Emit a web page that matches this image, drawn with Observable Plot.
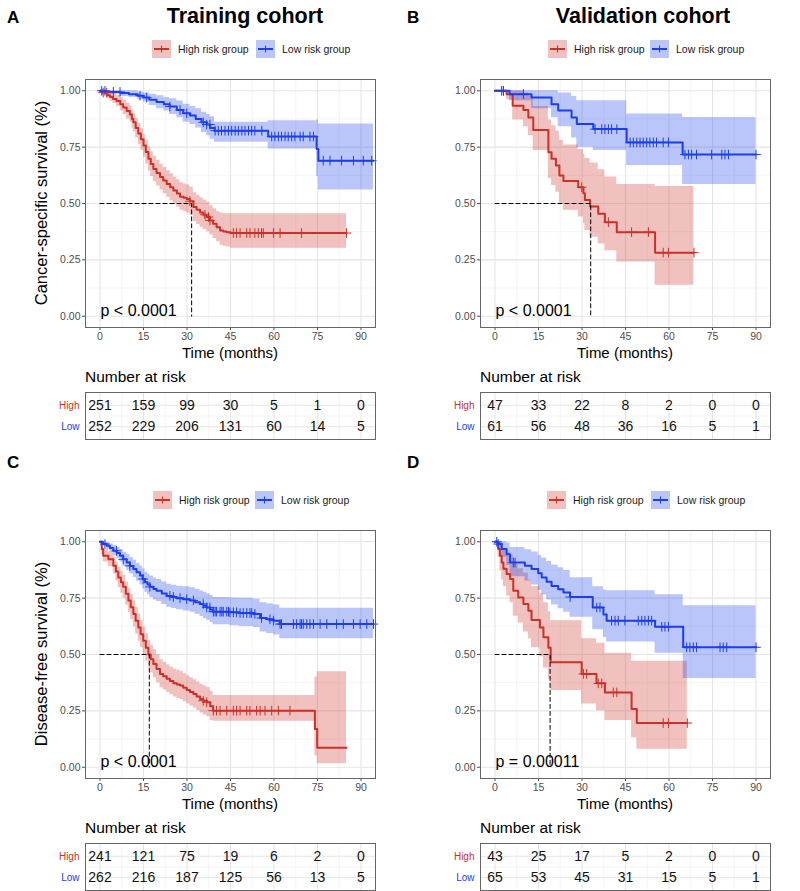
<!DOCTYPE html>
<html><head><meta charset="utf-8">
<script src="https://cdn.jsdelivr.net/npm/d3@7"></script>
<script src="https://cdn.jsdelivr.net/npm/@observablehq/plot@0.6"></script>
<style>
body{margin:0;background:#fff;}
#root{position:relative;width:800px;height:891px;overflow:hidden;font-family:"Liberation Sans",Arial,sans-serif;color:#000;}
.abs{position:absolute;white-space:nowrap;line-height:1.15;}
.plot{position:absolute;}
</style></head><body><div id="root"></div>
<script>
// ---------- data ----------
const timeTicks = [0, 15, 30, 45, 60, 75, 90];
const survTicks = [0, 0.25, 0.5, 0.75, 1];
const groupNames = ["High risk group", "Low risk group"];
const rowLabels = ["High", "Low"];
const cohortTitles = ["Training cohort", "Validation cohort"];
const panelLetters = ["A", "B", "C", "D"];
const yTitles = ["Cancer-specific survival (%)", "Disease-free survival (%)"];
const pValues = ["p < 0.0001", "p < 0.0001", "p < 0.0001", "p = 0.00011"];
const medians = [31.6, 33, 17, 19];

// step curves: [time, survival, lower CI, upper CI]
const A_high = [[0,1,1,1],[1,0.992,0.98,1],[2.5,0.98,0.965,0.995],[3.5,0.972,0.953,0.99],[4.5,0.964,0.943,0.986],[5.7,0.955,0.93,0.98],[7,0.94,0.91,0.97],[8,0.926,0.895,0.958],[9.2,0.91,0.875,0.945],[10.3,0.895,0.86,0.932],[11,0.875,0.835,0.915],[11.5,0.86,0.818,0.9],[12.3,0.835,0.79,0.878],[13.2,0.81,0.762,0.855],[14.1,0.785,0.735,0.832],[15,0.757,0.705,0.805],[15.8,0.728,0.675,0.78],[16.7,0.698,0.643,0.752],[17.5,0.675,0.62,0.73],[18.4,0.653,0.597,0.71],[19.5,0.635,0.578,0.692],[20.7,0.617,0.56,0.675],[21.8,0.602,0.543,0.66],[23,0.587,0.528,0.645],[24.2,0.572,0.512,0.632],[25.3,0.558,0.498,0.618],[26.5,0.544,0.483,0.605],[27.6,0.53,0.47,0.592],[28.8,0.525,0.463,0.587],[29.9,0.52,0.458,0.582],[31,0.51,0.448,0.572],[32.2,0.484,0.42,0.548],[33.3,0.472,0.407,0.537],[34.5,0.46,0.395,0.525],[35.6,0.45,0.385,0.515],[36.8,0.44,0.375,0.505],[37.9,0.425,0.36,0.49],[39,0.41,0.345,0.477],[40.2,0.395,0.33,0.463],[41.4,0.38,0.315,0.458],[42.5,0.376,0.31,0.455],[43.7,0.373,0.307,0.454],[45,0.369,0.302,0.454]];
const A_highEnd = 85;
const A_low = [[0,1,1,1],[2,0.995,0.985,1],[7,0.99,0.975,1],[10,0.985,0.97,1],[13,0.978,0.96,0.995],[15,0.97,0.95,0.99],[17,0.96,0.935,0.985],[19.5,0.95,0.92,0.978],[22,0.94,0.91,0.97],[24,0.93,0.895,0.965],[26.5,0.915,0.88,0.955],[28.7,0.9,0.86,0.94],[31,0.89,0.85,0.93],[33,0.875,0.835,0.92],[35,0.86,0.815,0.905],[36.8,0.85,0.8,0.895],[38,0.835,0.785,0.885],[39.5,0.823,0.772,0.86],[58,0.797,0.742,0.867],[74.7,0.742,0.62,0.87],[75.3,0.69,0.56,0.853]];
const A_lowEnd = 94.3;
const A_highCens = [1.1,2.3,31,36.2,37.4,37.9,46,47.1,48.3,50.6,51.7,53.4,54.6,55.7,56.3,59.8,62.1,69.5,85];
const A_lowCens = [0.6,1.7,4.6,6.9,13.8,16.1,24.1,27.6,29.9,35.6,36.8,37.9,39.7,40.8,41.9,43.1,44.3,45.4,46.6,47.7,48.9,50,51.2,52.3,53.4,55.8,59.2,60.3,61.5,62.6,63.8,64.9,66.1,67.2,69,70.1,72.4,73.6,77,79.3,83.3,87.4,90.8,93.7];
const A_highRisk = [251, 159, 99, 30, 5, 1, 0];
const A_lowRisk = [252, 229, 206, 131, 60, 14, 5];

const B_high = [[0,1,1,1],[4,0.985,0.96,1],[6.1,0.934,0.87,1],[9.8,0.915,0.84,0.99],[11.5,0.882,0.8,0.975],[13.2,0.826,0.735,0.93],[18.4,0.727,0.61,0.87],[19.5,0.698,0.58,0.845],[21,0.668,0.55,0.82],[22.2,0.624,0.5,0.78],[23.6,0.6,0.47,0.76],[28.7,0.572,0.44,0.74],[30.5,0.546,0.41,0.72],[31,0.516,0.38,0.7],[32.8,0.487,0.35,0.68],[35.6,0.454,0.32,0.65],[37.9,0.417,0.29,0.617],[42,0.373,0.24,0.584],[55.2,0.282,0.137,0.575]];
const B_highEnd = 68.6;
const B_low = [[0,1,1,1],[5,0.985,0.956,1],[12.6,0.97,0.92,1],[19.5,0.94,0.88,1],[21.8,0.912,0.84,0.99],[26.4,0.882,0.79,0.975],[28.2,0.853,0.75,0.956],[33.9,0.83,0.735,0.956],[45.4,0.771,0.668,0.897],[64.7,0.717,0.584,0.882]];
const B_lowEnd = 90;
const B_highCens = [2.9,29.9,39.1,47.1,52.9,58,59.8,68.6];
const B_lowCens = [2.3,2.9,9.8,34.5,36.8,37.9,39.1,40.2,42,46.6,47.7,48.9,50,51.1,52.3,53.4,54.6,55.7,58,59.8,65.5,66.7,67.8,69.5,74.7,78.2,79.3,80.5,90];
const B_highRisk = [47, 33, 22, 8, 2, 0, 0];
const B_lowRisk = [61, 56, 48, 36, 16, 5, 1];

const C_high = [[0,1,1,1],[0.6,0.968,0.945,0.99],[1.1,0.938,0.91,0.968],[2.9,0.923,0.89,0.955],[4.6,0.894,0.856,0.932],[5.5,0.868,0.826,0.91],[6.3,0.842,0.797,0.887],[7.2,0.82,0.772,0.868],[8,0.8,0.75,0.85],[8.9,0.77,0.718,0.822],[9.8,0.74,0.686,0.794],[10.6,0.71,0.654,0.766],[11.5,0.68,0.622,0.738],[12.3,0.65,0.591,0.709],[13.2,0.62,0.56,0.68],[14,0.59,0.53,0.65],[14.9,0.561,0.5,0.622],[15.8,0.53,0.47,0.592],[16.7,0.5,0.44,0.563],[17.5,0.479,0.418,0.542],[18.4,0.458,0.397,0.521],[19.5,0.436,0.375,0.499],[20.7,0.414,0.353,0.477],[21.8,0.403,0.342,0.466],[23,0.392,0.331,0.455],[24.1,0.382,0.321,0.445],[25.3,0.372,0.311,0.435],[26.5,0.367,0.305,0.43],[27.6,0.362,0.3,0.425],[28.7,0.352,0.29,0.415],[29.9,0.343,0.281,0.406],[31,0.334,0.272,0.397],[32.2,0.325,0.263,0.388],[33.3,0.314,0.252,0.378],[34.5,0.303,0.241,0.367],[35.6,0.295,0.232,0.36],[36.8,0.288,0.224,0.354],[38,0.27,0.207,0.337],[39,0.251,0.204,0.318],[74.1,0.17,0.05,0.4],[74.9,0.086,0.015,0.424]];
const C_highEnd = 85;
const C_low = [[0,1,1,1],[1,0.99,0.98,1],[2.3,0.982,0.967,0.997],[3.4,0.972,0.953,0.99],[4.6,0.96,0.937,0.983],[5.8,0.95,0.925,0.975],[6.9,0.938,0.91,0.966],[8,0.922,0.89,0.953],[9.2,0.908,0.874,0.943],[10.3,0.893,0.857,0.93],[11.5,0.879,0.841,0.918],[12.6,0.865,0.825,0.905],[13.8,0.85,0.808,0.893],[14.7,0.835,0.792,0.879],[15.5,0.82,0.776,0.865],[16.4,0.81,0.765,0.856],[17.2,0.8,0.753,0.848],[18.4,0.79,0.742,0.839],[19.5,0.783,0.735,0.833],[21.3,0.771,0.722,0.822],[23,0.76,0.71,0.812],[24.7,0.755,0.704,0.807],[26.4,0.75,0.699,0.803],[28.7,0.745,0.693,0.8],[31,0.74,0.687,0.796],[32.8,0.732,0.678,0.789],[34.5,0.724,0.669,0.782],[35.7,0.716,0.66,0.776],[36.8,0.709,0.652,0.77],[38,0.7,0.642,0.762],[39,0.69,0.632,0.753],[44.8,0.687,0.628,0.751],[48,0.684,0.624,0.75],[52.9,0.68,0.62,0.745],[55.2,0.662,0.6,0.73],[57.5,0.656,0.593,0.725],[59.8,0.65,0.586,0.72],[62,0.635,0.57,0.705]];
const C_lowEnd = 94.3;
const C_highCens = [35.6,36.8,39.1,40.2,41.4,43.7,46,47.1,48.3,50.6,51.7,54,55.2,56.9,59.2,61.5,65.5];
const C_lowCens = [1.7,5.7,8,10.3,14.9,17.2,24.1,25.3,27.6,29.9,32.2,35.6,36.8,37.9,39.1,39.7,40.2,41.4,42,42.5,43.7,44.3,44.8,46,47.1,48.3,49.4,50.6,51.7,52.3,53.4,55.7,58.6,59.8,62.1,62.6,66.7,67.8,69,69.5,70.1,71.3,72.4,73.6,75.9,78.2,81.6,83.9,87.4,89.7,92,94.3];
const C_highRisk = [241, 121, 75, 19, 6, 2, 0];
const C_lowRisk = [262, 216, 187, 125, 56, 13, 5];

const D_high = [[0,1,1,1],[1.1,0.968,0.93,1],[1.7,0.938,0.87,1],[2.3,0.908,0.83,0.99],[2.9,0.88,0.8,0.97],[4,0.857,0.76,0.955],[5.2,0.835,0.73,0.94],[6.3,0.783,0.67,0.9],[8,0.753,0.64,0.88],[9.8,0.724,0.6,0.86],[11.5,0.694,0.57,0.83],[12.6,0.653,0.53,0.8],[15.5,0.62,0.49,0.77],[16.7,0.576,0.44,0.73],[18.4,0.53,0.39,0.69],[19.2,0.466,0.34,0.65],[29.9,0.414,0.28,0.57],[35,0.372,0.25,0.55],[37.9,0.332,0.207,0.505],[47.1,0.258,0.13,0.47],[48.9,0.196,0.08,0.47]];
const D_highEnd = 66.3;
const D_low = [[0,1,1,1],[1.1,0.99,0.97,1],[2.3,0.968,0.93,1],[4,0.945,0.895,0.995],[5.2,0.908,0.845,0.975],[10.3,0.894,0.826,0.965],[12.6,0.879,0.808,0.955],[14.9,0.86,0.785,0.94],[16.1,0.842,0.764,0.928],[17.8,0.823,0.742,0.912],[19.5,0.804,0.72,0.897],[21.8,0.789,0.703,0.885],[23.6,0.775,0.687,0.873],[25.9,0.755,0.665,0.84],[33.7,0.709,0.61,0.8],[37.4,0.677,0.575,0.785],[38.5,0.65,0.555,0.783],[55.2,0.623,0.505,0.765],[64.9,0.532,0.394,0.716]];
const D_lowEnd = 90;
const D_highCens = [30.5,31.6,35.6,36.8,40.8,42,58,59.8,66.3];
const D_lowCens = [0.6,1.1,6.3,6.9,25.9,35.1,36.2,40.2,41.4,42.5,44.8,49.4,50.6,51.7,52.9,54,57.5,58.6,59.8,66.1,67.2,68.4,69.5,77.6,78.7,79.9,90];
const D_highRisk = [43, 25, 17, 5, 2, 0, 0];
const D_lowRisk = [65, 53, 45, 31, 15, 5, 1];

// ---------- style ----------
const RED = "#cc3128", BLUE = "#1b3ef0";
const FONT = "'Liberation Sans', Arial, sans-serif";
const xDomain = [-5, 95], yDomain = [-0.05, 1.05];
const minorX = [7.5, 22.5, 37.5, 52.5, 67.5, 82.5];
const minorY = [0.125, 0.375, 0.625, 0.875];
const FRAME_W = 290;

const root = document.getElementById("root");

function steps(rows, end) {
  const d = rows.map(([t, s, lo, hi]) => ({t, s, lo, hi}));
  d.push({...d[d.length - 1], t: end});
  return d;
}
function censorPts(times, curve) {
  const ts = curve.map(d => d.t);
  return times.map(t => {
    const i = Math.max(0, d3.bisectRight(ts, t) - 1);
    return {t, s: curve[i].s};
  });
}

function kmPanel(cfg) {
  const hi = steps(cfg.high, cfg.highEnd), lo = steps(cfg.low, cfg.lowEnd);
  const med = [{t: 0, s: 0.5}, {t: cfg.median, s: 0.5}, {t: cfg.median, s: 0}];
  return Plot.plot({
    width: cfg.ml + FRAME_W + 5, height: 277,
    marginLeft: cfg.ml, marginRight: 5, marginTop: 9, marginBottom: 20,
    style: {fontFamily: FONT, fontSize: "10.5px", color: "#4d4d4d", background: "transparent", overflow: "visible"},
    x: {domain: xDomain, ticks: timeTicks, tickSize: 3, tickPadding: 2, label: null},
    y: {domain: yDomain, ticks: survTicks, tickFormat: d3.format(".2f"), tickSize: 3, tickPadding: 2, label: null},
    marks: [
      Plot.gridX(minorX, {stroke: "#f3f3f3", strokeOpacity: 1, strokeWidth: 0.8}),
      Plot.gridY(minorY, {stroke: "#f3f3f3", strokeOpacity: 1, strokeWidth: 0.8}),
      Plot.gridX(timeTicks, {stroke: "#e5e5e5", strokeOpacity: 1, strokeWidth: 1.1}),
      Plot.gridY(survTicks, {stroke: "#e5e5e5", strokeOpacity: 1, strokeWidth: 1.1}),
      Plot.areaY(hi, {x: "t", y1: "lo", y2: "hi", curve: "step-after", fill: RED, fillOpacity: 0.3}),
      Plot.areaY(lo, {x: "t", y1: "lo", y2: "hi", curve: "step-after", fill: BLUE, fillOpacity: 0.3}),
      Plot.line(hi, {x: "t", y: "s", curve: "step-after", stroke: RED, strokeWidth: 2}),
      Plot.line(lo, {x: "t", y: "s", curve: "step-after", stroke: BLUE, strokeWidth: 2}),
      Plot.dot(censorPts(cfg.highCens, hi), {x: "t", y: "s", symbol: "plus", r: 3.2, stroke: RED, strokeWidth: 1}),
      Plot.dot(censorPts(cfg.lowCens, lo), {x: "t", y: "s", symbol: "plus", r: 3.2, stroke: BLUE, strokeWidth: 1}),
      Plot.line(med, {x: "t", y: "s", stroke: "#000", strokeWidth: 1, strokeDasharray: "4,3"}),
      Plot.text([cfg.p], {frameAnchor: "bottom-left", text: d => d, dx: 15, dy: -17, textAnchor: "start", lineAnchor: "middle", fontSize: 16, fill: "#000"}),
      Plot.frame({stroke: "#666", strokeWidth: 1})
    ]
  });
}

function riskTable(cfg) {
  const rows = timeTicks.map((t, i) => ({t, row: 1, n: cfg.highRisk[i]}))
    .concat(timeTicks.map((t, i) => ({t, row: 2, n: cfg.lowRisk[i]})));
  return Plot.plot({
    width: cfg.ml + FRAME_W + 5, height: 56,
    marginLeft: cfg.ml, marginRight: 5, marginTop: 7, marginBottom: 2,
    style: {fontFamily: FONT, background: "transparent", overflow: "visible"},
    x: {domain: xDomain, axis: null},
    y: {domain: [2.6, 0.4], axis: null},
    marks: [
      Plot.gridX(minorX, {stroke: "#f3f3f3", strokeOpacity: 1, strokeWidth: 0.8}),
      Plot.gridY([1.5], {stroke: "#f3f3f3", strokeOpacity: 1, strokeWidth: 0.8}),
      Plot.gridX(timeTicks, {stroke: "#e5e5e5", strokeOpacity: 1, strokeWidth: 1.1}),
      Plot.gridY([1, 2], {stroke: "#e5e5e5", strokeOpacity: 1, strokeWidth: 1.1}),
      Plot.text(rows, {x: "t", y: "row", text: "n", fontSize: 14, fill: "#111"}),
      Plot.text([rowLabels[0]], {frameAnchor: "left", y: () => 1, text: d => d, dx: -6, textAnchor: "end", fontSize: 10, fill: RED}),
      Plot.text([rowLabels[1]], {frameAnchor: "left", y: () => 2, text: d => d, dx: -6, textAnchor: "end", fontSize: 10, fill: BLUE}),
      Plot.frame({stroke: "#666", strokeWidth: 1})
    ]
  });
}

function place(node, left, top) {
  node.classList.add("plot");
  node.style.left = left + "px";
  node.style.top = top + "px";
  root.appendChild(node);
}
function label(text, x, y, o = {}) {
  const d = document.createElement("div");
  d.className = "abs";
  d.textContent = text;
  d.style.left = x + "px";
  d.style.top = y + "px";
  d.style.fontSize = (o.size || 12) + "px";
  d.style.fontWeight = o.weight || "normal";
  d.style.color = o.color || "#000";
  const tx = o.anchor === "start" ? "0" : "-50%";
  d.style.transform = `translate(${tx},-50%)` + (o.rotate ? ` rotate(${o.rotate}deg)` : "");
  root.appendChild(d);
}
function legendItem(x, y, color, text) {
  const d = document.createElement("div");
  d.className = "abs";
  d.style.left = x + "px";
  d.style.top = (y - 9) + "px";
  d.style.display = "flex";
  d.style.alignItems = "center";
  d.style.height = "18px";
  const svg = d3.create("svg").attr("width", 19).attr("height", 18);
  svg.append("rect").attr("width", 19).attr("height", 18).attr("fill", color).attr("fill-opacity", 0.3);
  svg.append("line").attr("x1", 2).attr("x2", 17).attr("y1", 9).attr("y2", 9).attr("stroke", color).attr("stroke-width", 2);
  svg.append("line").attr("x1", 9.5).attr("x2", 9.5).attr("y1", 5.5).attr("y2", 12.5).attr("stroke", color).attr("stroke-width", 1);
  d.appendChild(svg.node());
  const s = document.createElement("span");
  s.textContent = text;
  s.style.fontSize = "10.5px";
  s.style.marginLeft = "7px";
  s.style.color = "#1a1a1a";
  d.appendChild(s);
  root.appendChild(d);
}

const panels = [
  {high: A_high, highEnd: A_highEnd, low: A_low, lowEnd: A_lowEnd, highCens: A_highCens, lowCens: A_lowCens, highRisk: A_highRisk, lowRisk: A_lowRisk, median: medians[0], p: pValues[0], ml: 85, left: 0, top: 70, tableTop: 385, legend: [152, 256], legendY: 49, letterY: 18},
  {high: B_high, highEnd: B_highEnd, low: B_low, lowEnd: B_lowEnd, highCens: B_highCens, lowCens: B_lowCens, highRisk: B_highRisk, lowRisk: B_lowRisk, median: medians[1], p: pValues[1], ml: 80, left: 400, top: 70, tableTop: 385, legend: [548, 650], legendY: 49, letterY: 18},
  {high: C_high, highEnd: C_highEnd, low: C_low, lowEnd: C_lowEnd, highCens: C_highCens, lowCens: C_lowCens, highRisk: C_highRisk, lowRisk: C_lowRisk, median: medians[2], p: pValues[2], ml: 85, left: 0, top: 521, tableTop: 836, legend: [153, 255], legendY: 500, letterY: 463},
  {high: D_high, highEnd: D_highEnd, low: D_low, lowEnd: D_lowEnd, highCens: D_highCens, lowCens: D_lowCens, highRisk: D_highRisk, lowRisk: D_lowRisk, median: medians[3], p: pValues[3], ml: 80, left: 400, top: 521, tableTop: 836, legend: [547, 651], legendY: 500, letterY: 463}
];

panels.forEach((cfg, i) => {
  place(kmPanel(cfg), cfg.left, cfg.top);
  place(riskTable(cfg), cfg.left, cfg.tableTop);
  const frameLeft = cfg.left + cfg.ml;
  const frameCx = frameLeft + FRAME_W / 2;
  const frameTop = cfg.top + 9, frameBottom = frameTop + 248;
  label("Time (months)", frameCx, frameBottom + 26, {size: 15});
  label("Number at risk", frameLeft, cfg.tableTop - 8, {size: 15.5, anchor: "start"});
  label(panelLetters[i], cfg.left + 7, cfg.letterY, {size: 17, weight: "bold", anchor: "start"});
  legendItem(cfg.legend[0], cfg.legendY, RED, groupNames[0]);
  legendItem(cfg.legend[1], cfg.legendY, BLUE, groupNames[1]);
  if (i % 2 === 0) label(yTitles[i / 2], 41, (frameTop + frameBottom) / 2, {size: 16.5, rotate: -90});
});
label(cohortTitles[0], 245, 16, {size: 21.5, weight: "bold"});
label(cohortTitles[1], 643, 16, {size: 21.5, weight: "bold"});
</script>
</body></html>
